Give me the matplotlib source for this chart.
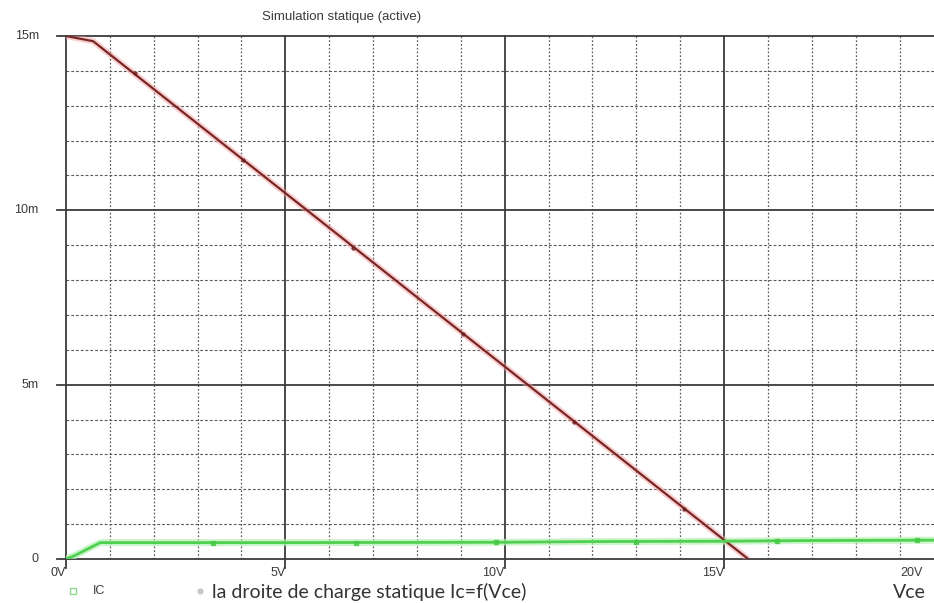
import matplotlib
matplotlib.use("Agg")
import matplotlib.pyplot as plt
from matplotlib.lines import Line2D
import numpy as np

# Load line Ic = f(Vce)  (V, mA)
load_vce = [0.0, 0.62, 15.55]
load_ic = [15.0, 14.85, 0.0]
load_mark_vce = [1.57, 4.04, 6.55, 9.06, 11.57, 14.09]
load_mark_ic = [13.94, 11.44, 8.93, 6.44, 3.94, 1.42]

# Collector current IC  (V, mA)
ic_vce = [0.0, 0.2, 0.78, 5.0, 10.0, 12.0, 15.0, 17.0, 19.8]
ic_ma = [0.0, 0.1, 0.47, 0.47, 0.48, 0.50, 0.51, 0.53, 0.54]
ic_mark_vce = [3.36, 6.6, 9.8, 13.0, 16.2, 19.4]
ic_mark_ma = [0.47, 0.47, 0.48, 0.50, 0.52, 0.54]

x_major = [0, 5, 10, 15, 20]
x_labels = ["0V", "5V", "10V", "15V", "20V"]
y_major = [0, 5, 10, 15]
y_labels = ["0", "5m", "10m", "15m"]

W, H = 934, 603
fig = plt.figure(figsize=(W / 100, H / 100), dpi=100)
ax = fig.add_axes([66 / W, 1 - 559 / H, 1 - 66 / W, (559 - 36) / H])
ax.set_xlim(0, 868 / 43.87)
ax.set_ylim(0, 15)
ax.set_axis_off()

grid_major = "#3c3c3c"
grid_minor = "#5a5a5a"

# minor grid (1 V / 1 mA)
for v in range(1, 20):
    if v % 5:
        ax.axvline(v, color=grid_minor, lw=0.9, ls=(0, (1.4, 1.6)), zorder=1)
for i in range(1, 15):
    if i % 5:
        ax.axhline(i, color=grid_minor, lw=0.8, ls=(0, (2.5, 1.8)), zorder=1)

# major grid with short tick stubs outside the plot
for v in x_major:
    ax.plot([v, v], [-0.27, 15], color=grid_major, lw=1.3, zorder=2, clip_on=False)
for i in y_major:
    ax.plot([-0.2, ax.get_xlim()[1]], [i, i], color=grid_major, lw=1.3, zorder=2, clip_on=False)

tick_font = dict(family="Liberation Sans", fontsize=9, color="#3a3a3a")
for v, lab in zip(x_major, x_labels):
    x_pix = 66 + v * 43.87
    if x_pix > W - 8:
        x_pix = W - 11
    fig.text(x_pix / W, 1 - 573 / H, lab, ha="right", va="center", **tick_font)
for i, lab in zip(y_major, y_labels):
    ax.text(-0.62, i, lab, ha="right", va="center", **tick_font)

# load line: soft red halo under a dark maroon trace
ax.plot(load_vce, load_ic, color="#f3a3a3", lw=4.5, alpha=0.5, zorder=4,
        solid_capstyle="butt")
ax.plot(load_vce, load_ic, color="#7a2626", lw=1.6, zorder=5)
ax.plot(load_mark_vce, load_mark_ic, ls="none", marker="o", ms=2.2,
        color="#6a2020", alpha=0.7, zorder=6)

# IC curve
ax.plot(ic_vce, ic_ma, color="#b5f0b5", lw=5, alpha=0.7, zorder=4)
ax.plot(ic_vce, ic_ma, color="#4fd04f", lw=2.0, zorder=5)
ax.plot(ic_mark_vce, ic_mark_ma, ls="none", marker="s", ms=3.2,
        color="#45c845", alpha=0.8, zorder=6)

fig.text(342 / W, 1 - 17 / H, "Simulation statique (active)", ha="center",
         va="center", family="Liberation Sans", fontsize=9.5, color="#3a3a3a")

# legend row
fig.add_artist(Line2D([73 / W], [1 - 591 / H], marker="s", ms=4, mfc="none",
                      mec="#8fd88f", mew=1.0, ls="none"))
fig.text(93 / W, 1 - 591 / H, "IC", ha="left", va="center",
         family="Liberation Sans", fontsize=9, color="#3a3a3a")
fig.add_artist(Line2D([200 / W], [1 - 591 / H], marker="o", ms=3.5,
                      color="#c8c8c8", ls="none"))
fig.text(212 / W, 1 - 592 / H, "la droite de charge statique Ic=f(Vce)",
         ha="left", va="center", family="Lato", fontsize=14,
         color="#333333")
fig.text(926 / W, 1 - 592 / H, "Vce", ha="right", va="center",
         family="Lato", fontsize=14, color="#333333")

fig.savefig("out.png", dpi=100)
